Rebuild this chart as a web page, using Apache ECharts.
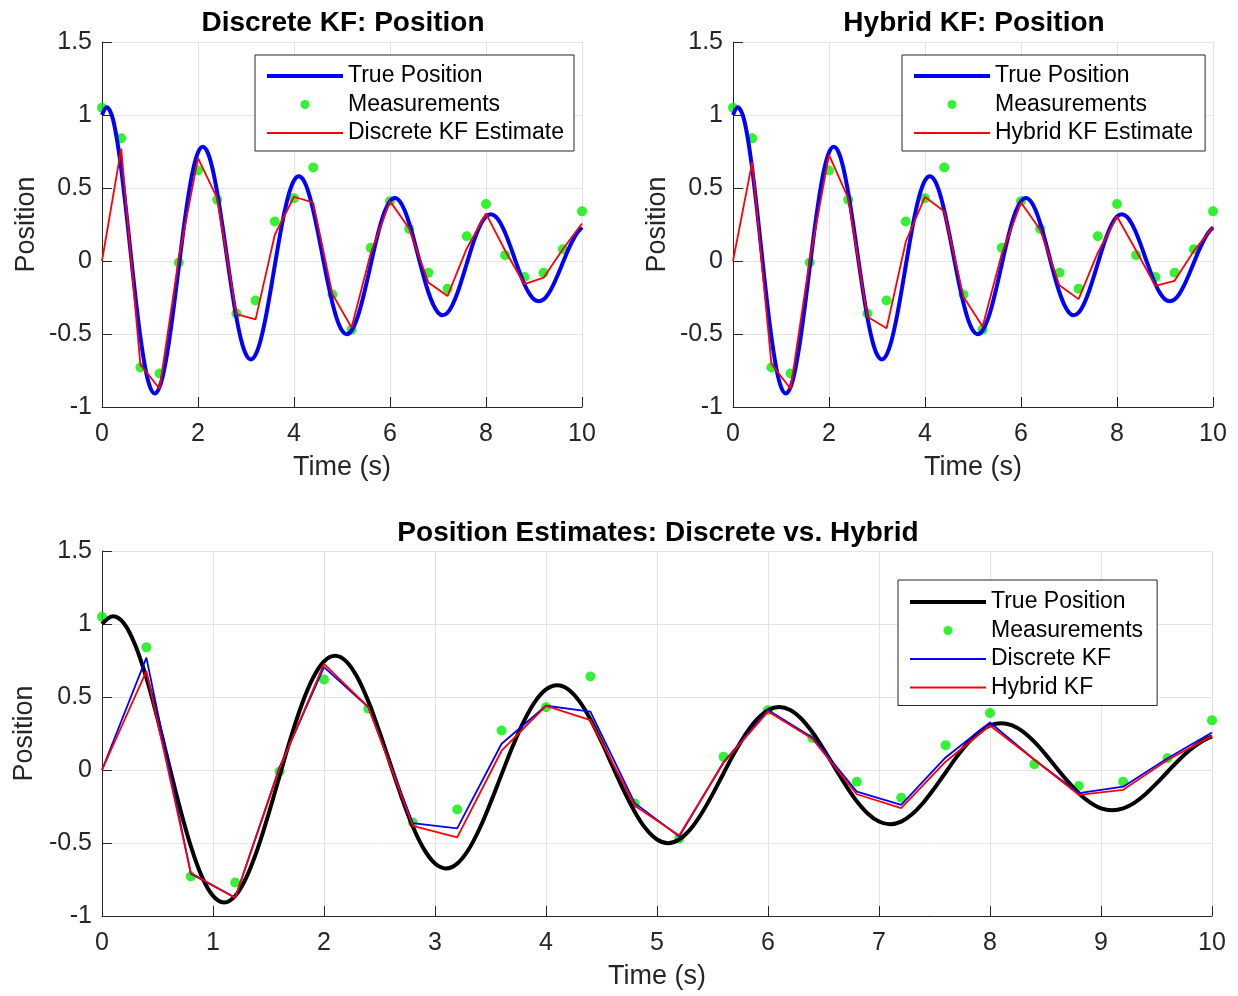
<!DOCTYPE html>
<html>
<head>
<meta charset="utf-8">
<title>Kalman Filter Position Estimates</title>
<script src="https://cdn.jsdelivr.net/npm/echarts@6/dist/echarts.min.js"></script>
<style>
  html, body { margin: 0; padding: 0; background: #ffffff; }
  #chart { width: 1238px; height: 996px; }
</style>
</head>
<body>
<div id="chart"></div>
<script>
// True position of the damped oscillator, sampled every 0.1 s from 0 to 10 s
const trueStep = 0.1;
const truePosition = [
  1.000, 1.053, 1.002, 0.855, 0.631, 0.352, 0.047, -0.254, -0.521, -0.730,
  -0.862, -0.907, -0.863, -0.737, -0.544, -0.303, -0.040, 0.219, 0.449, 0.629,
  0.743, 0.782, 0.744, 0.635, 0.469, 0.261, 0.035, -0.188, -0.387, -0.542,
  -0.640, -0.674, -0.641, -0.548, -0.404, -0.225, -0.030, 0.162, 0.333, 0.467,
  0.552, 0.581, 0.553, 0.472, 0.348, 0.194, 0.026, -0.140, -0.287, -0.403,
  -0.476, -0.501, -0.476, -0.407, -0.300, -0.167, -0.022, 0.121, 0.248, 0.347,
  0.410, 0.432, 0.411, 0.351, 0.259, 0.144, 0.019, -0.104, -0.214, -0.299,
  -0.353, -0.372, -0.354, -0.302, -0.223, -0.124, -0.017, 0.090, 0.184, 0.258,
  0.305, 0.321, 0.305, 0.261, 0.192, 0.107, 0.014, -0.077, -0.159, -0.222,
  -0.263, -0.276, -0.263, -0.225, -0.166, -0.092, -0.012, 0.067, 0.137, 0.192,
  0.230
];

// Measurement instants (every 0.4 s)
const measTimes = [
  0, 0.4, 0.8, 1.2, 1.6, 2.0, 2.4, 2.8, 3.2, 3.6, 4.0, 4.4, 4.8,
  5.2, 5.6, 6.0, 6.4, 6.8, 7.2, 7.6, 8.0, 8.4, 8.8, 9.2, 9.6, 10.0
];

// Noisy position measurements
const measurements = [
  1.05, 0.84, -0.73, -0.77, -0.01, 0.62, 0.42, -0.36, -0.27, 0.27, 0.43, 0.64, -0.23,
  -0.47, 0.09, 0.41, 0.22, -0.08, -0.19, 0.17, 0.39, 0.04, -0.11, -0.08, 0.08, 0.34
];

// Discrete Kalman filter position estimates
const discreteKF = [
  0, 0.77, -0.71, -0.875, 0.02, 0.705, 0.43, -0.364, -0.40, 0.18, 0.44, 0.40, -0.227,
  -0.455, 0.055, 0.41, 0.223, -0.148, -0.239, 0.086, 0.325, 0.07, -0.159, -0.114, 0.08, 0.257
];

// Hybrid Kalman filter position estimates
const hybridKF = [
  0, 0.677, -0.705, -0.875, 0.01, 0.727, 0.43, -0.382, -0.461, 0.132, 0.439, 0.341, -0.245,
  -0.448, 0.05, 0.40, 0.214, -0.166, -0.261, 0.057, 0.305, 0.07, -0.17, -0.136, 0.068, 0.234
];

const positionTicks = { min: -1, max: 1.5, step: 0.5 };
const timeRange = { min: 0, max: 10 };

const FONT = '"Liberation Sans", Arial, Helvetica, sans-serif';
const AXIS_COLOR = '#262626';
const GRID_COLOR = '#e4e4e4';
const GREEN = '#00ee00';

const trueData = truePosition.map((v, i) => [+(i * trueStep).toFixed(1), v]);
const pair = arr => measTimes.map((t, i) => [t, arr[i]]);

function xAxisFor(gridIndex, interval) {
  return {
    type: 'value', gridIndex,
    min: timeRange.min, max: timeRange.max, interval,
    name: 'Time (s)', nameLocation: 'middle', nameGap: 47,
    nameTextStyle: { fontSize: 27, color: AXIS_COLOR, fontFamily: FONT },
    axisLine: { show: true, onZero: false, lineStyle: { color: AXIS_COLOR, width: 1 } },
    axisTick: { show: true, inside: true, length: 10, lineStyle: { color: AXIS_COLOR } },
    axisLabel: { fontSize: 25, color: AXIS_COLOR, margin: 15, fontFamily: FONT },
    splitLine: { show: true, lineStyle: { color: GRID_COLOR, width: 1 } }
  };
}

function yAxisFor(gridIndex) {
  return {
    type: 'value', gridIndex,
    min: positionTicks.min, max: positionTicks.max, interval: positionTicks.step,
    name: 'Position', nameLocation: 'middle', nameGap: 62, nameRotate: 90,
    nameTextStyle: { fontSize: 27, color: AXIS_COLOR, fontFamily: FONT },
    axisLine: { show: true, onZero: false, lineStyle: { color: AXIS_COLOR, width: 1 } },
    axisTick: { show: true, inside: true, length: 10, lineStyle: { color: AXIS_COLOR } },
    axisLabel: { fontSize: 25, color: AXIS_COLOR, margin: 10, fontFamily: FONT },
    splitLine: { show: true, lineStyle: { color: GRID_COLOR, width: 1 } }
  };
}

function lineSeries(name, data, idx, color, width, smooth) {
  return {
    name, type: 'line', data, xAxisIndex: idx, yAxisIndex: idx,
    symbol: 'none', smooth: smooth ? 0.35 : false,
    lineStyle: { color, width }, itemStyle: { color },
    emphasis: { disabled: true }, animation: false
  };
}

function measSeries(idx) {
  return {
    name: 'Measurements', type: 'scatter', data: pair(measurements),
    xAxisIndex: idx, yAxisIndex: idx, symbol: 'circle', symbolSize: 10,
    itemStyle: { color: GREEN }, emphasis: { disabled: true }, animation: false
  };
}

// Legend entry for a plain line: the marker in the middle of the sample is hidden
function lineEntry(name, color, width) {
  return { name, itemStyle: { opacity: 0 }, lineStyle: { color, width } };
}

function legendFor(left, top, items, pad) {
  return {
    orient: 'vertical', left, top,
    data: items,
    itemWidth: 76, itemHeight: 9, itemGap: 4.5,
    padding: pad,
    borderColor: AXIS_COLOR, borderWidth: 1, backgroundColor: '#ffffff',
    selectedMode: false,
    textStyle: { fontSize: 23, color: '#000', lineHeight: 24, fontFamily: FONT }
  };
}

const titleStyle = { fontSize: 28, fontWeight: 'bold', color: '#000', fontFamily: FONT };

const option = {
  backgroundColor: '#ffffff',
  animation: false,
  title: [
    { text: 'Discrete KF: Position', left: 338, top: 4, textAlign: 'center', textStyle: titleStyle },
    { text: 'Hybrid KF: Position', left: 969, top: 4, textAlign: 'center', textStyle: titleStyle },
    { text: 'Position Estimates: Discrete vs. Hybrid', left: 653, top: 514, textAlign: 'center', textStyle: titleStyle }
  ],
  grid: [
    { left: 102, top: 42, width: 480, height: 365 },
    { left: 733, top: 42, width: 480, height: 365 },
    { left: 102, top: 551, width: 1110, height: 365 }
  ],
  xAxis: [xAxisFor(0, 2), xAxisFor(1, 2), xAxisFor(2, 1)],
  yAxis: [yAxisFor(0), yAxisFor(1), yAxisFor(2)],
  legend: [
    legendFor(255, 55, [
      lineEntry('True Position', '#0000ff', 4), 'Measurements', lineEntry('Discrete KF Estimate', '#ff0000', 2)
    ], [9, 10, 6, 10]),
    legendFor(902, 55, [
      lineEntry('True Position', '#0000ff', 4), 'Measurements', lineEntry('Hybrid KF Estimate', '#ff0000', 2)
    ], [9, 12, 6, 10]),
    legendFor(898, 580, [
      lineEntry('True Position', '#000000', 4), 'Measurements',
      lineEntry('Discrete KF', '#0000ff', 2), lineEntry('Hybrid KF', '#ff0000', 2)
    ], [10, 14, 6, 10])
  ],
  series: [
    // Top left: discrete filter
    lineSeries('True Position', trueData, 0, '#0000ff', 4, true),
    measSeries(0),
    lineSeries('Discrete KF Estimate', pair(discreteKF), 0, '#ff0000', 1.8, false),
    // Top right: hybrid filter
    lineSeries('True Position', trueData, 1, '#0000ff', 4, true),
    measSeries(1),
    lineSeries('Hybrid KF Estimate', pair(hybridKF), 1, '#ff0000', 1.8, false),
    // Bottom: comparison
    lineSeries('True Position', trueData, 2, '#000000', 4, true),
    measSeries(2),
    lineSeries('Discrete KF', pair(discreteKF), 2, '#0000ff', 1.8, false),
    lineSeries('Hybrid KF', pair(hybridKF), 2, '#ff0000', 1.8, false)
  ]
};

const chart = echarts.init(document.getElementById('chart'), null, { renderer: 'canvas' });
chart.setOption(option);
</script>
</body>
</html>
